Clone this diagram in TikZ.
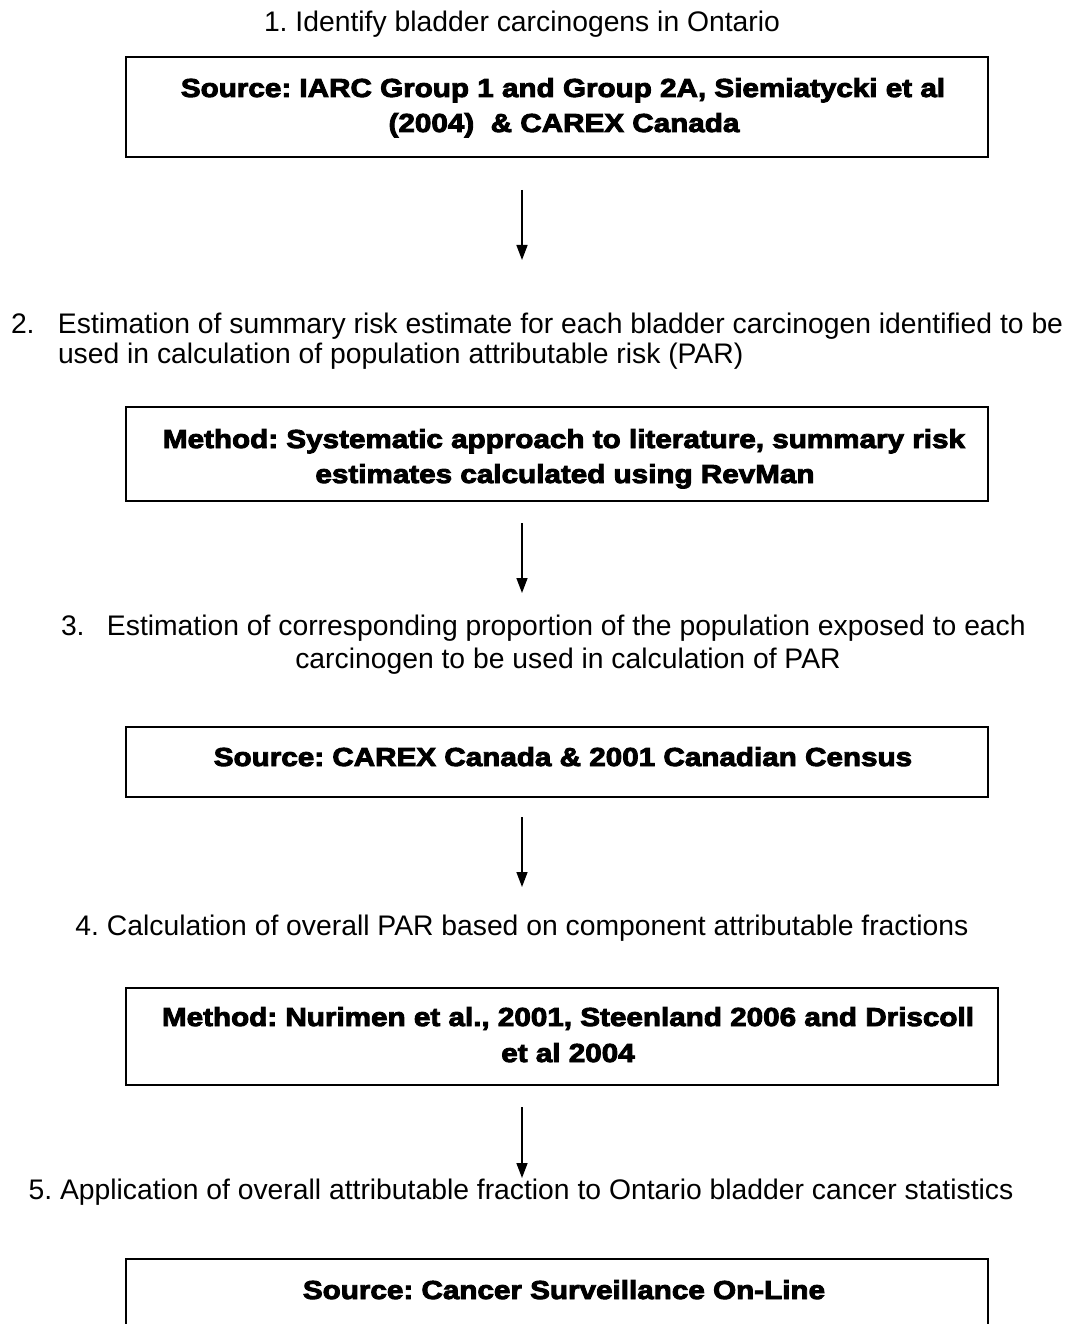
\documentclass[tikz,border=0pt]{standalone}
\usepackage{fontspec}
\setmainfont{Liberation Sans}
\newfontfamily\heavyfont[FakeStretch=1.14,BoldFeatures={FakeBold=3.5}]{Liberation Sans}
\usetikzlibrary{arrows.meta}
\frenchspacing
\begin{document}
\begin{tikzpicture}[x=1pt,y=-1pt,
  plain/.style={font=\fontsize{28.3pt}{34pt}\selectfont, inner sep=0pt, outer sep=0pt, text height=20pt, text depth=6pt, anchor=base},
  plainleft/.style={plain, anchor=base west},
  heavy/.style={font=\heavyfont\bfseries\fontsize{26pt}{35pt}\selectfont, inner sep=0pt, anchor=base},
  flowbox/.style={draw, line width=2pt, rectangle, inner sep=0pt, minimum width=862pt},
  arr/.style={line width=1.5pt, -{Triangle[width=11pt,length=15pt]}}]
\clip (0,0) rectangle (1085,1324);
\coordinate (ax) at (522,0);

% step 1
\node[plain] (t1) at (522,32) {1. Identify bladder carcinogens in Ontario};
\node[flowbox, minimum height=100pt] (b1) at (557,107) {};
\node[heavy] (b1a) at (563,97) {Source: IARC Group 1 and Group 2A, Siemiatycki et al};
\node[heavy] (b1b) at (564,132) {(2004)\ \ \& CAREX Canada};

% step 2
\node[plainleft] (t2a) at (11,333) {\makebox[47pt][l]{2.}Estimation of summary risk estimate for each bladder carcinogen identified to be};
\node[plainleft] (t2b) at (58,363) {used in calculation of population attributable risk (PAR)};
\node[flowbox, minimum height=94pt] (b2) at (557,454) {};
\node[heavy] (b2a) at (564,448) {Method: Systematic approach to literature, summary risk};
\node[heavy] (b2b) at (565,483) {estimates calculated using RevMan};

% step 3
\node[plainleft] (t3a) at (61,635) {\makebox[46pt][l]{3.}Estimation of corresponding proportion of the population exposed to each};
\node[plain] (t3b) at (568,668) {carcinogen to be used in calculation of PAR};
\node[flowbox, minimum height=70pt] (b3) at (557,762) {};
\node[heavy] (b3a) at (563,766) {Source: CAREX Canada \& 2001 Canadian Census};

% step 4
\node[plain] (t4) at (522,935) {4. Calculation of overall PAR based on component attributable fractions};
\node[flowbox, minimum height=97pt, minimum width=872pt] (b4) at (562,1036.5) {};
\node[heavy] (b4a) at (568,1026) {Method: Nurimen et al., 2001, Steenland 2006 and Driscoll};
\node[heavy] (b4b) at (568,1062) {et al 2004};

% step 5
\node[plain] (t5) at (521,1199) {5. Application of overall attributable fraction to Ontario bladder cancer statistics};
\node[flowbox, minimum height=100pt] (b5) at (557,1309) {};
\node[heavy] (b5a) at (564,1299) {Source: Cancer Surveillance On-Line};

% arrows
\draw[arr, shorten <=32pt, shorten >=53pt] (b1.south -| ax) -- (t2a.north -| ax);
\draw[arr, shorten <=21pt, shorten >=22pt] (b2.south -| ax) -- (t3a.north -| ax);
\draw[arr, shorten <=19pt, shorten >=28pt] (b3.south -| ax) -- (t4.north -| ax);
\draw[arr, shorten <=21pt, shorten >=1pt] (b4.south -| ax) -- (t5.north -| ax);
\end{tikzpicture}
\end{document}
